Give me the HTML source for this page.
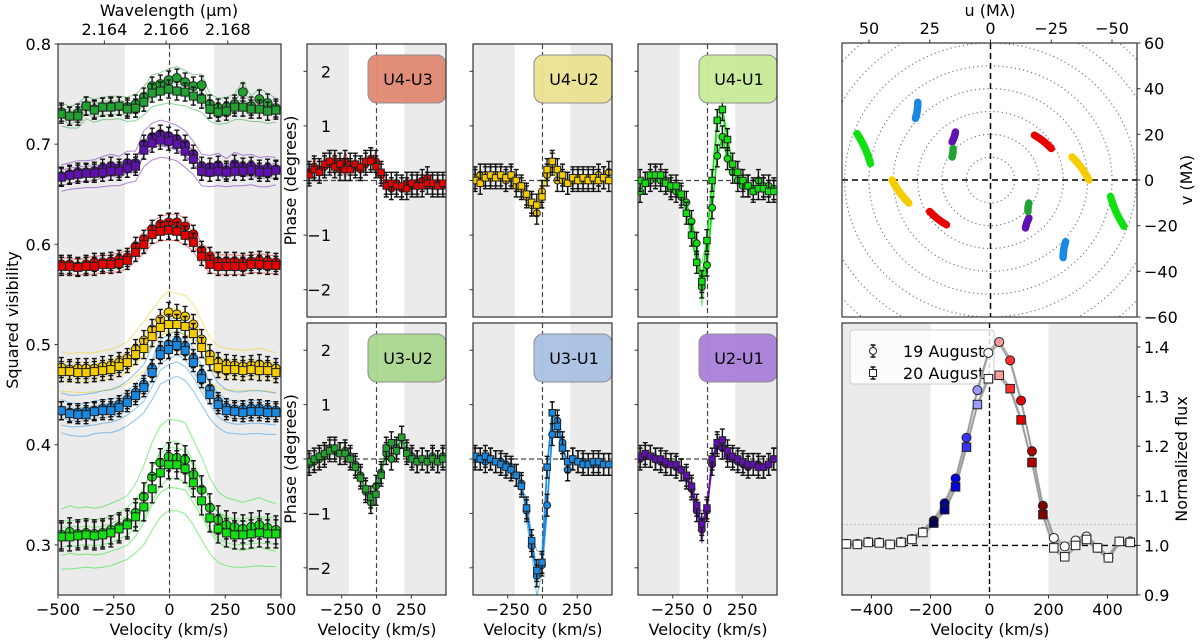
<!DOCTYPE html>
<html><head><meta charset="utf-8"><style>
html,body{margin:0;padding:0;background:#fff;}
svg{display:block;font-family:"DejaVu Sans","Liberation Sans",sans-serif;}
</style></head><body>
<svg id="fig" width="1200" height="641" viewBox="0 0 1200 641" xmlns="http://www.w3.org/2000/svg">
<defs>
<clipPath id="cp-vis"><rect x="58" y="44" width="223" height="551"/></clipPath>
<clipPath id="cp-uv"><rect x="842" y="43" width="295" height="274"/></clipPath>
<clipPath id="cp-flux"><rect x="842" y="323" width="295" height="272"/></clipPath>
<clipPath id="cp-p00"><rect x="307" y="44" width="139" height="273"/></clipPath>
<clipPath id="cp-p01"><rect x="473" y="44" width="139" height="273"/></clipPath>
<clipPath id="cp-p02"><rect x="638" y="44" width="139" height="273"/></clipPath>
<clipPath id="cp-p10"><rect x="307" y="323" width="139" height="272"/></clipPath>
<clipPath id="cp-p11"><rect x="473" y="323" width="139" height="272"/></clipPath>
<clipPath id="cp-p12"><rect x="638" y="323" width="139" height="272"/></clipPath>
</defs>
</svg>
<script>
// ---------- data ----------
const velocities = [-485,-448,-411,-374,-337,-300,-263,-226,-189,-152,-115,-78,-41,-4,33,70,107,144,181,218,255,292,329,366,403,440,477];
const baselines = ['U3-U2','U2-U1','U4-U3','U4-U2','U3-U1','U4-U1'];
const visAug19_U3U2 = [0.732,0.728,0.731,0.738,0.735,0.737,0.738,0.738,0.737,0.740,0.747,0.758,0.760,0.764,0.766,0.762,0.758,0.759,0.740,0.736,0.737,0.740,0.752,0.738,0.745,0.741,0.736];
const visAug20_U3U2 = [0.730,0.728,0.728,0.738,0.734,0.737,0.737,0.738,0.735,0.736,0.742,0.751,0.753,0.755,0.753,0.752,0.748,0.745,0.735,0.732,0.733,0.737,0.737,0.735,0.735,0.733,0.734];
const visAug19_U2U1 = [0.668,0.670,0.672,0.672,0.673,0.676,0.678,0.676,0.681,0.681,0.700,0.707,0.710,0.708,0.705,0.700,0.690,0.678,0.677,0.679,0.674,0.680,0.677,0.678,0.675,0.676,0.675];
const visAug20_U2U1 = [0.667,0.669,0.670,0.671,0.671,0.672,0.673,0.673,0.676,0.678,0.694,0.701,0.704,0.703,0.700,0.693,0.685,0.673,0.672,0.673,0.672,0.673,0.673,0.674,0.672,0.672,0.674];
const visAug19_U4U3 = [0.580,0.580,0.578,0.580,0.582,0.582,0.583,0.585,0.587,0.598,0.605,0.615,0.620,0.622,0.622,0.618,0.610,0.594,0.588,0.583,0.583,0.583,0.582,0.583,0.584,0.583,0.582];
const visAug20_U4U3 = [0.578,0.578,0.577,0.578,0.578,0.580,0.580,0.581,0.584,0.592,0.600,0.610,0.613,0.614,0.613,0.609,0.602,0.588,0.580,0.578,0.578,0.578,0.578,0.580,0.580,0.579,0.579];
const visAug19_U4U2 = [0.477,0.475,0.476,0.476,0.476,0.478,0.479,0.482,0.486,0.495,0.504,0.515,0.525,0.532,0.530,0.528,0.520,0.505,0.490,0.482,0.480,0.479,0.478,0.479,0.480,0.478,0.476];
const visAug20_U4U2 = [0.473,0.473,0.472,0.472,0.473,0.474,0.475,0.478,0.482,0.490,0.496,0.508,0.517,0.520,0.520,0.518,0.511,0.497,0.484,0.477,0.475,0.475,0.474,0.475,0.474,0.474,0.472];
const visAug19_U3U1 = [0.434,0.432,0.432,0.433,0.434,0.436,0.437,0.440,0.445,0.452,0.460,0.476,0.494,0.500,0.503,0.498,0.486,0.470,0.456,0.443,0.437,0.435,0.435,0.436,0.436,0.435,0.434];
const visAug20_U3U1 = [0.434,0.431,0.430,0.430,0.433,0.434,0.434,0.437,0.442,0.449,0.457,0.472,0.490,0.495,0.499,0.494,0.482,0.466,0.450,0.440,0.434,0.433,0.432,0.433,0.433,0.432,0.432];
const visAug19_U4U1 = [0.310,0.313,0.311,0.312,0.311,0.312,0.315,0.318,0.322,0.332,0.348,0.368,0.382,0.388,0.387,0.385,0.370,0.355,0.337,0.325,0.320,0.318,0.316,0.318,0.320,0.317,0.315];
const visAug20_U4U1 = [0.308,0.308,0.309,0.310,0.309,0.310,0.312,0.316,0.320,0.328,0.338,0.356,0.372,0.380,0.380,0.376,0.362,0.344,0.327,0.316,0.312,0.310,0.310,0.311,0.312,0.311,0.311];
const visThinOffsets = [-0.02,-0.013,-0.006,0.004,0.01,0.016];
const visThinSpread = [0.6,0.7,0.4,1.0,1.1,1.6];
const visErr = [0.009,0.009,0.009,0.010,0.009,0.014];

const phAug19_U4U3 = [0.15,0.25,0.2,0.25,0.3,0.35,0.2,0.35,0.3,0.25,0.2,0.3,0.4,0.35,0.1,-0.05,-0.15,-0.05,-0.15,-0.05,-0.1,-0.05,0.0,0.05,-0.1,-0.05,-0.1];
const phAug20_U4U3 = [0.1,0.2,0.15,0.3,0.35,0.25,0.3,0.2,0.2,0.3,0.25,0.35,0.35,0.25,0.15,-0.1,-0.05,-0.1,-0.1,-0.15,-0.05,-0.1,-0.1,-0.05,-0.05,-0.1,-0.05];
const phAug19_U4U2 = [0.05,0.1,0.1,0.05,0.1,0.05,0.0,0.05,-0.1,-0.15,-0.3,-0.45,-0.6,-0.2,0.1,0.3,0.0,0.0,-0.05,0.0,0.05,0.0,0.05,0.0,0.1,0.05,0.15];
const phAug20_U4U2 = [0.0,-0.05,0.05,0.1,0.05,0.1,0.05,0.1,0.0,-0.1,-0.25,-0.4,-0.45,-0.3,0.2,0.35,0.2,0.1,-0.05,0.05,0.0,0.05,0.0,0.05,0.0,0.05,0.0];
const phAug19_U4U1 = [-0.2,-0.05,0.0,0.05,0.0,0.0,-0.15,-0.2,-0.3,-0.4,-0.75,-1.15,-1.95,-1.55,-0.5,0.45,0.8,0.4,0.15,0.0,-0.1,-0.1,-0.15,0.0,-0.1,-0.1,-0.15];
const phAug20_U4U1 = [0.0,-0.05,0.1,0.1,0.1,-0.05,-0.1,-0.1,-0.25,-0.6,-1.0,-1.5,-1.85,-1.1,0.0,1.1,1.3,0.75,0.3,0.15,0.0,-0.1,-0.2,-0.15,-0.15,-0.2,-0.2];
const phAug19_U3U2 = [-0.1,-0.05,0.0,0.05,0.2,0.15,0.1,0.15,0.05,-0.1,-0.3,-0.6,-0.8,-0.5,-0.25,0.1,0.0,0.2,0.4,0.15,0.05,-0.05,0.0,-0.05,0.05,-0.05,0.05];
const phAug20_U3U2 = [-0.05,0.0,0.05,0.1,0.15,0.2,0.1,0.1,0.0,-0.15,-0.35,-0.55,-0.7,-0.65,-0.3,0.2,0.3,0.15,0.4,0.1,0.0,-0.05,0.0,-0.05,0.0,-0.05,0.0];
const phAug19_U3U1 = [0.0,0.0,-0.05,0.0,-0.05,-0.05,-0.1,-0.15,-0.3,-0.45,-0.95,-1.6,-2.15,-1.95,-0.85,0.45,0.7,0.3,-0.2,0.0,-0.05,-0.05,-0.1,-0.1,-0.1,-0.1,-0.1];
const phAug20_U3U1 = [0.05,0.0,0.05,0.0,-0.05,-0.1,-0.15,-0.2,-0.3,-0.5,-0.9,-1.5,-2.05,-1.9,-0.15,0.85,0.6,0.2,-0.05,0.0,-0.05,-0.1,-0.1,-0.05,-0.05,-0.1,-0.1];
const phAug19_U2U1 = [0.0,0.05,0.05,0.0,-0.05,-0.1,-0.1,-0.15,-0.2,-0.35,-0.55,-0.95,-1.3,-0.95,-0.1,0.25,0.2,0.05,0.0,-0.05,-0.1,-0.15,-0.1,-0.1,-0.15,-0.1,0.0];
const phAug20_U2U1 = [0.05,0.1,0.05,0.0,0.0,-0.05,-0.1,-0.1,-0.2,-0.3,-0.5,-0.85,-1.2,-0.9,0.0,0.3,0.35,0.15,0.05,0.0,-0.05,-0.1,-0.1,-0.15,-0.15,-0.1,0.0];
const phThinOffsets = [-0.15,-0.06,0.06,0.15];

const fluxAug19 = [1.003,1.003,1.007,1.006,1.002,1.007,1.013,1.027,1.05,1.085,1.135,1.217,1.313,1.388,1.41,1.373,1.292,1.19,1.08,1.015,0.998,1.01,1.018,0.995,0.975,1.008,1.008];
const fluxAug20 = [1.003,1.002,1.006,1.005,1.002,1.006,1.012,1.026,1.045,1.072,1.118,1.198,1.284,1.336,1.343,1.316,1.253,1.167,1.062,0.995,0.977,1.0,1.012,0.995,0.975,1.008,1.006];

const uvBaselines = ['U3-U1','U4-U1','U2-U1','U3-U2','U4-U3','U4-U2'];
const uvStartU = [29.9,54.9,14.4,15.4,-18.1,-33.6];
const uvStartV = [34,20.3,21,13.8,19.6,10.1];
const uvEndU = [30.9,49.4,15.8,15.8,-25,-40.5];
const uvEndV = [27,7.2,16.7,10.1,13.8,0];
const uvRingRadii = [10,20,30,40,50,60,70,80];

const visTicks = [0.3,0.4,0.5,0.6,0.7,0.8];
const velTicksVis = [-500,-250,0,250,500];
const velTicksPhase = [-250,0,250];
const velTicksFlux = [-400,-200,0,200,400];
const phaseTicks = [-2,-1,0,1,2];
const fluxTicks = [0.9,1.0,1.1,1.2,1.3,1.4];
const uTicks = [50,25,0,-25,-50];
const vTicks = [60,40,20,0,-20,-40,-60];
const wlTicks = [2.164,2.166,2.168];

// ---------- styles ----------
const FS = 16;
const colorOf = {'U3-U2':'#22a232','U2-U1':'#6010b0','U4-U3':'#e80000','U4-U2':'#f5cc00','U3-U1':'#1888e0','U4-U1':'#10e010'};
const boxColorOf = {'U4-U3':'#e08a72','U4-U2':'#ede291','U4-U1':'#c9ec98','U3-U2':'#a9d88f','U3-U1':'#a9c1e3','U2-U1':'#a97fd9'};
const fluxColors = ['#fff','#fff','#fff','#fff','#fff','#fff','#fff','#fff','#000050','#00008b','#0000e0','#3535ff','#9a9aff','#fff','#ff9c9c','#ff3030','#e80000','#b00000','#800000','#fff','#fff','#fff','#fff','#fff','#fff','#fff','#fff'];

const NS='http://www.w3.org/2000/svg';
const svg=document.getElementById('fig');
function mk(tag,attrs,parent){const e=document.createElementNS(NS,tag);for(const k in attrs)e.setAttribute(k,attrs[k]);(parent||svg).appendChild(e);return e;}
function lin(d0,d1,p0,p1){return v=>p0+(v-d0)*(p1-p0)/(d1-d0);}
function txt(x,y,s,size,anchor,parent,rot){const t=mk('text',{x:x,y:y,'font-size':size,'text-anchor':anchor||'middle',fill:'#000'},parent);if(rot)t.setAttribute('transform','rotate('+rot+' '+x+' '+y+')');t.textContent=s;return t;}
function pathFrom(xs,ys){return xs.map((x,i)=>(i?'L':'M')+x.toFixed(1)+','+ys[i].toFixed(1)).join('');}
function fmt(t){return t<0?'\u2212'+(-t):''+t;}

function frame(x,y,w,h,name){
  const r=mk('rect',{x:x,y:y,width:w,height:h,fill:'none',stroke:'#333','stroke-width':1.2});
  
  
}
function greyBands(sx,y0,y1,g,name){
  const a=mk('rect',{x:sx(-500),y:y0,width:sx(-200)-sx(-500),height:y1-y0,fill:'#ebebeb'},g);
  
  
  const b=mk('rect',{x:sx(200),y:y0,width:sx(500)-sx(200),height:y1-y0,fill:'#ebebeb'},g);
  
  
}
function errMarker(g,x,y,ey,shape,fill,size,kind){
  const e=mk('path',{d:'M'+x+','+(y-ey)+'V'+(y+ey)+'M'+(x-2.5)+','+(y-ey)+'H'+(x+2.5)+'M'+(x-2.5)+','+(y+ey)+'H'+(x+2.5),stroke:'#111','stroke-width':1.4,fill:'none'},g);
  
  
  let m;
  if(shape==='c'){m=mk('circle',{cx:x,cy:y,r:size/2,fill:fill,stroke:'#222','stroke-width':1},g);}
  else{m=mk('rect',{x:x-size/2,y:y-size/2,width:size,height:size,fill:fill,stroke:'#222','stroke-width':1},g);}
  
  
}

// ---------- Panel 1: squared visibility ----------
(function(){
  const sx=lin(-500,500,58,281), sy=lin(0.25,0.8,595,44);
  const g=mk('g',{'clip-path':'url(#cp-vis)'});
  
  
  greyBands(sx,44,595,g,'visibility');
  const z=mk('line',{x1:sx(0),x2:sx(0),y1:44,y2:595,stroke:'#444','stroke-width':1.2,'stroke-dasharray':'5,3'},g);
  
  
  const sets={'U3-U2':[visAug19_U3U2,visAug20_U3U2],'U2-U1':[visAug19_U2U1,visAug20_U2U1],'U4-U3':[visAug19_U4U3,visAug20_U4U3],'U4-U2':[visAug19_U4U2,visAug20_U4U2],'U3-U1':[visAug19_U3U1,visAug20_U3U1],'U4-U1':[visAug19_U4U1,visAug20_U4U1]};
  baselines.forEach((b,bi)=>{
    const [a,c]=sets[b];
    visThinOffsets.forEach((o,k)=>{
      const src=k%2?a:c;
      const ys=src.map(v=>sy(v+o*visThinSpread[bi]+(v-src[0])*o*visThinSpread[bi]*6));
      const p=mk('path',{d:pathFrom(velocities.map(sx),ys),fill:'none',stroke:colorOf[b],'stroke-width':1,opacity:0.5},g);
      
      
    });
  });
  baselines.forEach((b,bi)=>{
    const [a,c]=sets[b];
    const err=(sy(0)-sy(visErr[bi]));
    velocities.forEach((v,i)=>{errMarker(g,sx(v),sy(a[i]),err,'c',colorOf[b],9,'visibility-aug19-'+b.toLowerCase());});
    velocities.forEach((v,i)=>{errMarker(g,sx(v),sy(c[i]),err,'s',colorOf[b],8,'visibility-aug20-'+b.toLowerCase());});
  });
  frame(58,44,223,551,'visibility-axes-frame');
  visTicks.forEach(t=>{
    const l=mk('line',{x1:54.5,x2:58,y1:sy(t),y2:sy(t),stroke:'#333'});
    
    
    const s=txt(51,sy(t)+6,t.toFixed(1),FS,'end');
    
    
  });
  velTicksVis.forEach(t=>{
    const l=mk('line',{x1:sx(t),x2:sx(t),y1:595,y2:598.5,stroke:'#333'});
    
    
    const s=txt(sx(t),615,fmt(t),FS);
    
    
  });
  const sw=v=>sx((v-2.16611)/2.16611*299792);
  wlTicks.forEach(t=>{
    const l=mk('line',{x1:sw(t),x2:sw(t),y1:44,y2:40.5,stroke:'#333'});
    
    
    const s=txt(sw(t),35,t.toFixed(3),FS);
    
    
  });
  const wl=txt(169,16,'Wavelength (\u03bcm)',FS);
  
  
  const xl=txt(169,635,'Velocity (km/s)',FS);
  
  
  const yl=txt(18,320,'Squared visibility',FS,'middle',null,-90);
  
  
})();

// ---------- Phase panels ----------
(function(){
  const cols=[307,473,638], rows=[[44,317],[323,595]];
  const layout=[['U4-U3','U4-U2','U4-U1'],['U3-U2','U3-U1','U2-U1']];
  const data={'U4-U3':[phAug19_U4U3,phAug20_U4U3],'U4-U2':[phAug19_U4U2,phAug20_U4U2],'U4-U1':[phAug19_U4U1,phAug20_U4U1],'U3-U2':[phAug19_U3U2,phAug20_U3U2],'U3-U1':[phAug19_U3U1,phAug20_U3U1],'U2-U1':[phAug19_U2U1,phAug20_U2U1]};
  layout.forEach((row,ri)=>{
    const [y0,y1]=rows[ri];
    row.forEach((b,ci)=>{
      const x0=cols[ci];
      const sx=lin(-500,500,x0,x0+139), sy=lin(-2.5,2.5,y1,y0);
      const g=mk('g',{'clip-path':'url(#cp-p'+ri+ci+')'});
      
      
      greyBands(sx,y0,y1,g,'phase-'+b.toLowerCase());
      const vz=mk('line',{x1:sx(0),x2:sx(0),y1:y0,y2:y1,stroke:'#444','stroke-width':1.2,'stroke-dasharray':'5,3'},g);
      
      
      const hz=mk('line',{x1:x0,x2:x0+139,y1:sy(0),y2:sy(0),stroke:'#444','stroke-width':1.2,'stroke-dasharray':'5,3'},g);
      
      
      const [a,c]=data[b];
      phThinOffsets.forEach((o,k)=>{
        const src=k%2?a:c;
        const ys=src.map((v,i)=>sy(v*(1+o)+o*(i%2?0.8:-0.4)));
        const p=mk('path',{d:pathFrom(velocities.map(sx),ys),fill:'none',stroke:colorOf[b],'stroke-width':1,opacity:0.6},g);
        
        
      });
      [a,c].forEach(s=>{
        const p=mk('path',{d:pathFrom(velocities.map(sx),s.map(sy)),fill:'none',stroke:colorOf[b],'stroke-width':1.6},g);
        
        
      });
      const err=sy(0)-sy(0.2);
      velocities.forEach((v,i)=>{errMarker(g,sx(v),sy(a[i]),err,'c',colorOf[b],7,'phase-aug19-'+b.toLowerCase());});
      velocities.forEach((v,i)=>{errMarker(g,sx(v),sy(c[i]),err,'s',colorOf[b],6.5,'phase-aug20-'+b.toLowerCase());});
      const bx=mk('rect',{x:x0+61,y:y0+11,width:78,height:48,rx:9,fill:boxColorOf[b],stroke:'#888','stroke-width':1,opacity:0.95});
      
      
      const bt=txt(x0+101,y0+41,b,FS);
      
      
      frame(x0,y0,139,y1-y0,'phase-axes-frame-'+b.toLowerCase());
      phaseTicks.forEach(t=>{
        const l=mk('line',{x1:x0-3.5,x2:x0,y1:sy(t),y2:sy(t),stroke:'#333'});
        
        
        if(ci===0&&t!==0){
          const s=txt(x0+24,sy(t)+6,fmt(t),FS,'end');
          
          
        }
      });
      if(ri===1){
        velTicksPhase.forEach(t=>{
          const l=mk('line',{x1:sx(t),x2:sx(t),y1:y1,y2:y1+3.5,stroke:'#333'});
          
          
          const s=txt(sx(t),615,fmt(t),FS);
          
          
        });
        const xl=txt(x0+70,635,'Velocity (km/s)',FS);
        
        
      }
      if(ci===0){
        const yl=txt(296,(y0+y1)/2,'Phase (degrees)',FS,'middle',null,-90);
        
        
      }
    });
  });
})();

// ---------- uv coverage ----------
(function(){
  const su=lin(0,-50,990.5,1112), sv=lin(-60,60,317,43);
  const g=mk('g',{'clip-path':'url(#cp-uv)'});
  
  
  uvRingRadii.forEach(r=>{
    const e=mk('ellipse',{cx:su(0),cy:sv(0),rx:Math.abs(su(r)-su(0)),ry:Math.abs(sv(r)-sv(0)),fill:'none',stroke:'#777','stroke-width':1.2,'stroke-dasharray':'1.2,3'},g);
    
    
  });
  const h=mk('line',{x1:842,x2:1137,y1:sv(0),y2:sv(0),stroke:'#000','stroke-width':1.5,'stroke-dasharray':'6,4'},g);
  
  
  const vl=mk('line',{x1:su(0),x2:su(0),y1:43,y2:317,stroke:'#000','stroke-width':1.5,'stroke-dasharray':'6,4'},g);
  
  
  uvBaselines.forEach((b,i)=>{
    [1,-1].forEach(sg=>{
      const x1=su(sg*uvStartU[i]),y1=sv(sg*uvStartV[i]),x2=su(sg*uvEndU[i]),y2=sv(sg*uvEndV[i]);
      const mx=(x1+x2)/2+(y2-y1)*0.08, my=(y1+y2)/2-(x2-x1)*0.08;
      const p=mk('path',{d:'M'+x1+','+y1+'Q'+mx+','+my+' '+x2+','+y2,fill:'none',stroke:colorOf[b],'stroke-width':7.5,'stroke-linecap':'round'},g);
      
      
    });
  });
  frame(842,43,295,274,'uv-axes-frame');
  uTicks.forEach(t=>{
    const l=mk('line',{x1:su(t),x2:su(t),y1:43,y2:39.5,stroke:'#333'});
    
    
    const s=txt(su(t),34,fmt(t),FS);
    
    
  });
  vTicks.forEach(t=>{
    const l=mk('line',{x1:1137,x2:1140.5,y1:sv(t),y2:sv(t),stroke:'#333'});
    
    
    const s=txt(1144,sv(t)+6,fmt(t),FS,'start');
    
    
  });
  const ut=txt(990,16,'u (M\u03bb)',FS);
  
  
  const vt=txt(1192,180,'v (M\u03bb)',FS,'middle',null,-90);
  
  
})();

// ---------- Flux ----------
(function(){
  const sx=lin(-500,500,842,1137), sy=lin(0.9,1.4,595,347);
  const g=mk('g',{'clip-path':'url(#cp-flux)'});
  
  
  greyBands(sx,323,595,g,'flux');
  const dl=mk('line',{x1:842,x2:1137,y1:sy(1.042),y2:sy(1.042),stroke:'#aaa','stroke-width':1,'stroke-dasharray':'1.5,2.5'},g);
  
  
  const hz=mk('line',{x1:842,x2:1137,y1:sy(1),y2:sy(1),stroke:'#000','stroke-width':1.4,'stroke-dasharray':'6,4'},g);
  
  
  const vz=mk('line',{x1:sx(0),x2:sx(0),y1:323,y2:595,stroke:'#000','stroke-width':1.4,'stroke-dasharray':'5,3'},g);
  
  
  const leg=mk('rect',{x:850,y:330,width:144,height:54,rx:3,fill:'#fff','fill-opacity':0.8,stroke:'#ccc'});
  
  
  errMarker(svg,873,351,6,'c','#fff',7,'legend-aug19');
  errMarker(svg,873,373,6,'s','#fff',7,'legend-aug20');
  const l1=txt(903,357,'19 August',FS,'start');
  
  
  const l2=txt(903,379,'20 August',FS,'start');
  
  
  const g2=mk('g',{'clip-path':'url(#cp-flux)'});
  
  
  [fluxAug19,fluxAug20].forEach(s=>{
    [-0.004,0,0.004].forEach(o=>{
      const p=mk('path',{d:pathFrom(velocities.map(sx),s.map(v=>sy(v+o))),fill:'none',stroke:'#999','stroke-width':1.3,opacity:0.8},g2);
      
      
    });
  });
  const err=sy(0)-sy(0.006);
  velocities.forEach((v,i)=>{errMarker(g2,sx(v),sy(fluxAug19[i]),err,'c',fluxColors[i],9,'flux-aug19');});
  velocities.forEach((v,i)=>{errMarker(g2,sx(v),sy(fluxAug20[i]),err,'s',fluxColors[i],8.5,'flux-aug20');});
  frame(842,323,295,272,'flux-axes-frame');
  velTicksFlux.forEach(t=>{
    const l=mk('line',{x1:sx(t),x2:sx(t),y1:595,y2:598.5,stroke:'#333'});
    
    
    const s=txt(sx(t),615,fmt(t),FS);
    
    
  });
  fluxTicks.forEach(t=>{
    const l=mk('line',{x1:1137,x2:1140.5,y1:sy(t),y2:sy(t),stroke:'#333'});
    
    
    const s=txt(1144,sy(t)+6,t.toFixed(1),FS,'start');
    
    
  });
  const xl=txt(990,635,'Velocity (km/s)',FS);
  
  
  const yl=txt(1187,459,'Normalized flux',FS,'middle',null,-90);
  
  
})();
</script>
</body></html>
